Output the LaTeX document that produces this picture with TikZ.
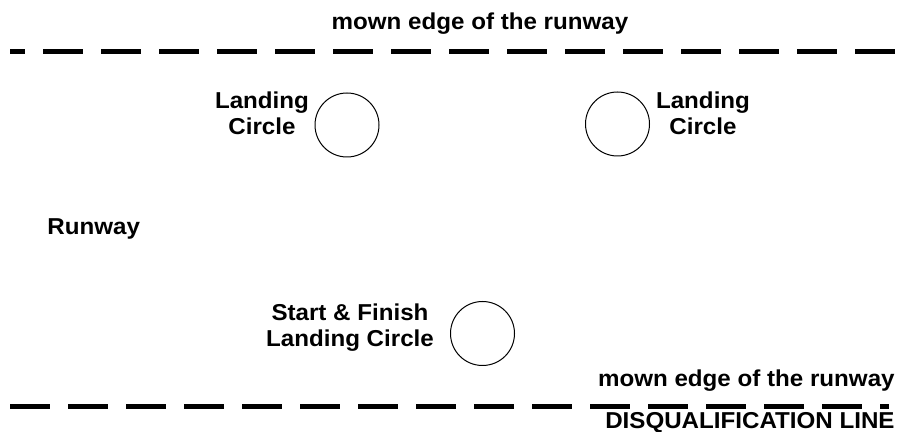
\documentclass[tikz,border=0pt]{standalone}
\usepackage{fontspec}
\setmainfont{Liberation Sans}[FakeStretch=1.05]
\usepackage{tikz}
\usetikzlibrary{positioning}
\tikzstyle{bord} = [line width=2.5pt, dash pattern=on 20pt off 9pt]
\tikzstyle{cercle} = [circle, draw, line width=0.5pt, minimum size=32pt, inner sep=0pt]
\tikzstyle{etiq} = [inner sep=0pt, align=center, font=\fontsize{11.5pt}{13pt}\selectfont\bfseries]

\begin{document}
\begin{tikzpicture}[x=0.5pt, y=-0.5pt]
	\useasboundingbox (0,0) rectangle (900,432);

	% bord haut
	\coordinate (H1) at (10,51.5);
	\coordinate (H2) at (897,51.5);
	\draw[bord, dash phase=12.5pt] (H1) -- (H2);
	\node[etiq, anchor=base] (TH) at (480,30) {mown edge of the runway};

	% bord bas
	\coordinate (B1) at (10,406.7);
	\coordinate (B2) at (889,406.7);
	\draw[bord] (B1) -- (B2);
	\node[etiq, anchor=base east] (TB) at (895,387) {mown edge of the runway};
	\node[etiq, anchor=base east] (DQ) at (895,428.5) {DISQUALIFICATION LINE};

	% cercles
	\node[cercle] (C1) at (347,125) {};
	\node[etiq, anchor=base] (L1) at (262,135) {Landing\\Circle};

	\node[cercle] (C2) at (617.5,124) {};
	\node[etiq, anchor=base] (L2) at (703,135) {Landing\\Circle};

	\node[cercle] (C3) at (482.5,333.5) {};
	\node[etiq, anchor=base] (L3) at (350,347) {Start \& Finish\\Landing Circle};

	\node[etiq, anchor=base west] (R) at (47,235) {Runway};

\end{tikzpicture}
\end{document}
